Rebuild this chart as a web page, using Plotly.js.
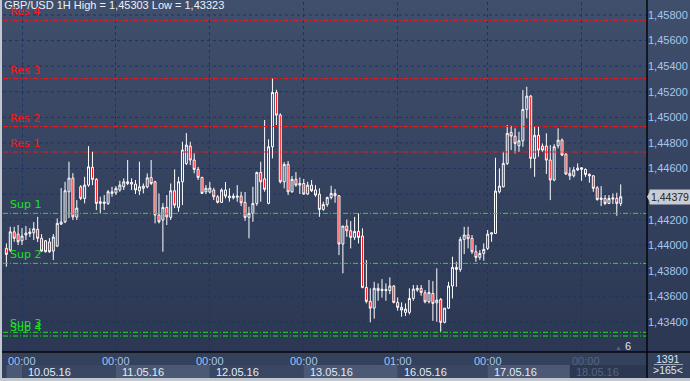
<!DOCTYPE html>
<html><head><meta charset="utf-8">
<script src="https://cdn.plot.ly/plotly-3.0.1.min.js"></script>
<style>
html,body{margin:0;padding:0;background:#2c3954;}
#wrap{position:relative;width:690px;height:381px;background:linear-gradient(to bottom,#404f6c 0px,#2b3753 352px,#2b3753 381px);}
#chart{position:absolute;left:0;top:0;width:690px;height:381px;}
</style></head>
<body><div id="wrap"><div id="chart"></div></div>
<script>
// ---- data (GBP/USD 1H) ----
const opens = [1.43975,1.43962,1.44105,1.44087,1.44035,1.44080,1.44091,1.44097,1.44124,1.44054,
1.44035,1.44025,1.43954,1.43993,1.44165,1.44183,1.44418,1.44525,1.44220,1.44457,
1.44366,1.44470,1.44609,1.44515,1.44327,1.44327,1.44327,1.44405,1.44410,1.44432,
1.44457,1.44483,1.44478,1.44478,1.44426,1.44445,1.44457,1.44530,1.44496,1.44236,
1.44197,1.44296,1.44218,1.44426,1.44296,1.44496,1.44640,1.44775,1.44666,1.44593,
1.44530,1.44418,1.44415,1.44432,1.44379,1.44335,1.44432,1.44371,1.44371,1.44375,
1.44384,1.44335,1.44218,1.44249,1.44327,1.44569,1.44519,1.44327,1.44770,1.45195,
1.45018,1.44496,1.44632,1.44418,1.44515,1.44470,1.44483,1.44400,1.44470,1.44432,
1.44400,1.44280,1.44319,1.44374,1.44405,1.44387,1.44009,1.44150,1.44113,1.44061,
1.44108,1.44072,1.43670,1.43561,1.43508,1.43645,1.43645,1.43645,1.43645,1.43681,
1.43553,1.43514,1.43475,1.43475,1.43584,1.43650,1.43663,1.43628,1.43558,1.43623,
1.43550,1.43577,1.43397,1.43508,1.43681,1.43827,1.43811,1.44046,1.44080,1.44054,
1.43949,1.43905,1.43936,1.43975,1.44087,1.44092,1.44418,1.44457,1.44640,1.44882,
1.44853,1.44778,1.44817,1.45062,1.45166,1.44679,1.44860,1.44775,1.44775,1.44666,
1.44510,1.44778,1.44822,1.44713,1.44562,1.44543,1.44588,1.44593,1.44593,1.44554,
1.44543,1.44449,1.44358,1.44366,1.44327,1.44361,1.44366,1.44327];
const highs = [1.44014,1.44144,1.44144,1.44158,1.44134,1.44150,1.44134,1.44181,1.44222,1.44087,
1.44041,1.44056,1.44087,1.44210,1.44447,1.44496,1.44653,1.44564,1.44353,1.44470,
1.44535,1.44775,1.44731,1.44525,1.44379,1.44392,1.44432,1.44457,1.44462,1.44504,
1.44523,1.44666,1.44523,1.44510,1.44653,1.44483,1.44562,1.44666,1.44504,1.44405,
1.44330,1.44392,1.44483,1.44593,1.44535,1.44809,1.44877,1.44809,1.44718,1.44613,
1.44535,1.44470,1.44496,1.44449,1.44392,1.44445,1.44494,1.44445,1.44405,1.44470,
1.44418,1.44416,1.44301,1.44457,1.44575,1.44653,1.44979,1.44828,1.45303,1.45216,
1.45031,1.44650,1.44658,1.44541,1.44572,1.44530,1.44519,1.44496,1.44510,1.44470,
1.44445,1.44340,1.44379,1.44465,1.44439,1.44392,1.44150,1.44202,1.44189,1.44222,
1.44249,1.44132,1.43884,1.43663,1.43714,1.43701,1.43735,1.43701,1.43749,1.43689,
1.43592,1.43553,1.43545,1.43663,1.43689,1.43689,1.43689,1.43650,1.43728,1.43719,
1.43819,1.43587,1.43508,1.43714,1.43910,1.43871,1.44066,1.44144,1.44144,1.44080,
1.44001,1.43962,1.44014,1.44119,1.44097,1.44684,1.44601,1.44731,1.44940,1.44934,
1.44914,1.44887,1.45213,1.45239,1.45174,1.44926,1.44926,1.44796,1.44875,1.44783,
1.44790,1.44914,1.44835,1.44718,1.44609,1.44613,1.44640,1.44609,1.44601,1.44562,
1.44549,1.44462,1.44462,1.44392,1.44392,1.44405,1.44410,1.44476];
const lows = [1.43832,1.43949,1.44027,1.44001,1.44001,1.44041,1.44064,1.44041,1.44025,1.43949,
1.43943,1.43940,1.43884,1.43985,1.44158,1.44173,1.44212,1.44197,1.44197,1.44353,
1.44327,1.44457,1.44470,1.44275,1.44249,1.44275,1.44314,1.44379,1.44392,1.44418,
1.44432,1.44470,1.44432,1.44400,1.44392,1.44405,1.44445,1.44470,1.44171,1.44171,
1.43949,1.44158,1.44197,1.44290,1.44262,1.44314,1.44627,1.44627,1.44562,1.44510,
1.44400,1.44400,1.44405,1.44353,1.44327,1.44332,1.44366,1.44340,1.44358,1.44340,
1.44306,1.44191,1.44054,1.44183,1.44308,1.44340,1.44418,1.44320,1.44679,1.44940,
1.44483,1.44445,1.44392,1.44410,1.44457,1.44400,1.44394,1.44394,1.44416,1.44379,
1.44222,1.44269,1.44301,1.44358,1.44332,1.43923,1.43780,1.44066,1.43975,1.44041,
1.44014,1.43663,1.43545,1.43397,1.43426,1.43566,1.43590,1.43566,1.43618,1.43545,
1.43488,1.43441,1.43446,1.43459,1.43566,1.43636,1.43605,1.43545,1.43545,1.43409,
1.43401,1.43323,1.43389,1.43501,1.43584,1.43675,1.43792,1.43931,1.43975,1.43931,
1.43871,1.43884,1.43879,1.43962,1.44027,1.44092,1.44405,1.44452,1.44627,1.44744,
1.44718,1.44731,1.44770,1.44992,1.44601,1.44535,1.44692,1.44731,1.44557,1.44353,
1.44500,1.44757,1.44697,1.44549,1.44510,1.44530,1.44582,1.44504,1.44535,1.44489,
1.44418,1.44348,1.44306,1.44314,1.44322,1.44322,1.44231,1.44306];
const closes = [1.43928,1.44105,1.44054,1.44027,1.44072,1.44095,1.44103,1.44129,1.44054,1.43954,
1.43949,1.43949,1.44064,1.44171,1.44181,1.44426,1.44525,1.44222,1.44290,1.44366,
1.44470,1.44613,1.44515,1.44327,1.44340,1.44338,1.44418,1.44418,1.44445,1.44470,
1.44496,1.44496,1.44491,1.44432,1.44457,1.44462,1.44527,1.44483,1.44236,1.44183,
1.44296,1.44222,1.44426,1.44314,1.44496,1.44744,1.44783,1.44666,1.44593,1.44530,
1.44405,1.44445,1.44447,1.44379,1.44335,1.44432,1.44384,1.44384,1.44384,1.44384,
1.44332,1.44218,1.44249,1.44327,1.44569,1.44496,1.44437,1.44770,1.45195,1.45018,
1.44496,1.44632,1.44418,1.44515,1.44470,1.44483,1.44400,1.44470,1.44426,1.44392,
1.44280,1.44319,1.44374,1.44405,1.44387,1.44009,1.44150,1.44113,1.44061,1.44108,
1.44061,1.43670,1.43561,1.43508,1.43663,1.43663,1.43655,1.43653,1.43681,1.43553,
1.43514,1.43493,1.43501,1.43584,1.43657,1.43663,1.43631,1.43558,1.43631,1.43545,
1.43571,1.43397,1.43508,1.43681,1.43827,1.43811,1.44046,1.44080,1.44051,1.43949,
1.43905,1.43936,1.43967,1.44087,1.44097,1.44423,1.44462,1.44640,1.44875,1.44853,
1.44796,1.44817,1.45062,1.45166,1.44679,1.44860,1.44744,1.44744,1.44666,1.44510,
1.44770,1.44822,1.44705,1.44557,1.44543,1.44588,1.44603,1.44606,1.44554,1.44543,
1.44445,1.44358,1.44369,1.44327,1.44366,1.44369,1.44327,1.44379];

// day boundaries (bar index), time & date tick labels
const dateIdx = [4, 28, 52, 76, 100, 123, 147];
const timeLabels = ['00:00','00:00','00:00','00:00','01:00','00:00','00:00'];
const dateLabels = ['10.05.16','11.05.16','12.05.16','13.05.16','16.05.16','17.05.16','18.05.16'];

// price axis ticks
const priceTicks = [1.434,1.436,1.438,1.440,1.442,1.444,1.446,1.448,1.450,1.452,1.454,1.456,1.458];

// support / resistance levels
const levelNames  = ['Res 4','Res 3','Res 2','Res 1','Sup 1','Sup 2','Sup 3','Sup 4'];
const levelValues = [1.45759, 1.45303, 1.44928, 1.44729, 1.44249, 1.43858, 1.43319, 1.43290];
const levelKinds  = ['r','r','r','r','s','s','s','s'];

const symbol = 'GBP/USD', period = '1H';
const barsTotal = 1391, barsVisible = 165, scrollShift = 6;

// ---- build ----
const xs = opens.map((_, i) => i);
const fmt = v => v.toFixed(5).replace('.', ',');
const hi = Math.max(...highs), lo = Math.min(...lows);
const lastClose = closes[closes.length - 1];
const XMIN = -0.86, XMAX = 163.72;
const RED = '#ff1414', GREEN = '#1fe01f';
const GRID = '#1c355f';
const shownTicks = priceTicks.filter(t => Math.abs(t - lastClose) > 0.0006);

const shapes = [];
const annotations = [];

priceTicks.forEach(t => {
  shapes.push({type:'line', xref:'paper', yref:'y', x0:0, x1:1, y0:t, y1:t,
    line:{color:GRID, width:1, dash:'3px,3px'}, layer:'below'});
});

levelValues.forEach((v, k) => {
  const c = levelKinds[k] === 'r' ? RED : GREEN;
  shapes.push({type:'line', xref:'paper', yref:'y', x0:0, x1:1, y0:v, y1:v,
    line:{color:c, width:1, dash:'5px,2px,1px,2px'}, layer:'above'});
  annotations.push({xref:'paper', yref:'y', x:0.0093, y:v, xanchor:'left', yanchor:'bottom',
    yshift:1, text:levelNames[k], showarrow:false, borderpad:0,
    font:{family:'DejaVu Sans, sans-serif', size:11, color:c}});
});

const Y_BOT = -26/350, Y_MID = -14/350, Y_END = -29/350;
const X_R = 687/644, X_L = -3/644;
shapes.push({type:'rect', xref:'paper', yref:'paper', x0:X_L, x1:X_R, y0:Y_END, y1:0,
  fillcolor:'#34415c', line:{width:0}, layer:'below'});
const boxW = 19.7;
const boxStarts = [XMIN + 0.9].concat(dateIdx.map(d => Math.min(d, XMAX - boxW)));
boxStarts.forEach((s, k) => {
  const end = (k + 1 < boxStarts.length) ? boxStarts[k + 1] : XMAX;
  shapes.push({type:'rect', xref:'x', yref:'paper', x0:s, x1:end, y0:Y_BOT, y1:Y_MID + 0.003,
    fillcolor: k === boxStarts.length - 1 ? '#2c3852' : (k % 2 === 0 ? '#4b5975' : '#3a4762'),
    line:{width:0}, layer:'below'});
});
dateIdx.forEach((d, k) => {
  const last = k === dateIdx.length - 1;
  const s = Math.min(d, XMAX - boxW);
  annotations.push({xref:'x', yref:'paper', x: last ? s : d, y:-9/350, yanchor:'middle',
    xanchor: last ? 'left' : 'center', text:timeLabels[k], showarrow:false,
    font:{family:'Liberation Sans, Arial', size:11, color: last ? '#56647e' : '#a4c4ec'}});
  annotations.push({xref:'x', yref:'paper', x:s, xshift:4, y:-20/350, yanchor:'middle',
    xanchor:'left', text:dateLabels[k], showarrow:false,
    font:{family:'Liberation Sans, Arial', size:11, color: last ? '#56647e' : '#e4eaf4'}});
});
shapes.push({type:'line', xref:'paper', yref:'paper', x0:X_L, x1:X_R, y0:0, y1:0,
  line:{color:'#05070c', width:1.5}, layer:'above'});
shapes.push({type:'line', xref:'paper', yref:'paper', x0:1, x1:1, y0:Y_BOT, y1:1.01,
  line:{color:'#05070c', width:1.5}, layer:'above'});
shapes.push({type:'rect', xref:'paper', yref:'paper', x0:X_L, x1:-1/644, y0:Y_END, y1:1.01,
  fillcolor:'#c3c7cf', line:{width:0}, layer:'above'});
shapes.push({type:'rect', xref:'paper', yref:'paper', x0:X_L, x1:X_R, y0:Y_END, y1:Y_BOT,
  fillcolor:'#c3c7cf', line:{width:0}, layer:'above'});
// bottom-right counters
annotations.push({xref:'paper', yref:'paper', x:(668-3)/644, y:-6.5/350, xanchor:'center', yanchor:'middle',
  text:String(barsTotal), showarrow:false, font:{family:'Liberation Sans, Arial', size:10.5, color:'#dfe6f2'}});
annotations.push({xref:'paper', yref:'paper', x:(668-3)/644, y:-18/350, xanchor:'center', yanchor:'middle',
  text:'&gt;' + barsVisible + '&lt;', showarrow:false, font:{family:'Liberation Sans, Arial', size:10.5, color:'#dfe6f2'}});
shapes.push({type:'line', xref:'paper', yref:'paper', x0:(654-3)/644, x1:(683-3)/644, y0:-12.5/350, y1:-12.5/350,
  line:{color:'#9aa6bc', width:1}});
annotations.push({xref:'paper', yref:'paper', x:(633-3)/644, y:6/350, xanchor:'right', yanchor:'middle',
  text:'<span style="color:#56627a;font-size:7px">▲</span> ' + scrollShift, showarrow:false,
  font:{family:'Liberation Sans, Arial', size:11, color:'#dfe6f2'}});
annotations.push({xref:'paper', yref:'y', x:1, xshift:2, y:lastClose, xanchor:'left', yanchor:'middle',
  text:fmt(lastClose), showarrow:false, bgcolor:'#c9ccd3', borderpad:1,
  font:{family:'Liberation Sans, Arial', size:10.5, color:'#1b1f27'}});
shapes.push({type:'path', xref:'paper', yref:'y',
  path:`M ${1 + 0/644} ${lastClose} L ${1 + 3/644} ${lastClose + 0.00045} L ${1 + 3/644} ${lastClose - 0.00045} Z`,
  fillcolor:'#c9ccd3', line:{width:0}});

const trace = {
  type:'candlestick', x:xs, open:opens, high:highs, low:lows, close:closes,
  increasing:{line:{color:'#ffffff', width:1}, fillcolor:'rgba(0,0,0,0)'},
  decreasing:{line:{color:'#ffffff', width:1}, fillcolor:'#ff0000'},
  whiskerwidth:0, hoverinfo:'skip', showlegend:false
};

const layout = {
  width:690, height:381,
  margin:{l:3, r:43, t:2, b:29, pad:0},
  paper_bgcolor:'rgba(0,0,0,0)', plot_bgcolor:'rgba(0,0,0,0)',
  separators:',.',
  boxgap:0.28,
  showlegend:false,
  title:{text:`${symbol} ${period} High = ${fmt(hi)} Low = ${fmt(lo)}`,
    xref:'container', yref:'container', x:0.006, xanchor:'left', y:0.997, yanchor:'top',
    pad:{t:0, l:0, r:0, b:0},
    font:{family:'Liberation Sans, Arial', size:11, color:'#eef2f8'}},
  xaxis:{range:[XMIN, XMAX], fixedrange:true, rangeslider:{visible:false},
    tickvals:dateIdx, showticklabels:false, ticks:'',
    showgrid:true, gridcolor:GRID, gridwidth:1, griddash:'3px,3px', zeroline:false, showline:false},
  yaxis:{range:[1.43165, 1.45902], side:'right', fixedrange:true,
    tickmode:'array', tickvals:shownTicks, ticktext:shownTicks.map(fmt), ticks:'',
    tickfont:{family:'Liberation Sans, Arial', size:11, color:'#a6c6ee'},
    showgrid:false, zeroline:false, showline:false},
  shapes, annotations
};

Plotly.newPlot('chart', [trace], layout, {displayModeBar:false, staticPlot:true});
</script></body></html>
